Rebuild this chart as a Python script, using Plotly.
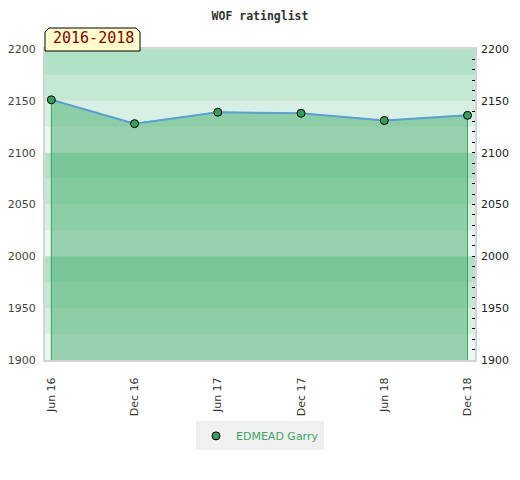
import plotly.graph_objects as go

# WOF rating list data
months = ["Jun 16", "Dec 16", "Jun 17", "Dec 17", "Jun 18", "Dec 18"]
ratings = [2151, 2128, 2139, 2138, 2131, 2136]
player = "EDMEAD Garry"
period = "2016-2018"

# background rating bands (25 points each) and their opacity
band_edges = [1900, 1925, 1950, 1975, 2000, 2025, 2050, 2075, 2100, 2125, 2150, 2175, 2200]
band_alpha = [0.1, 0.2, 0.3, 0.4, 0.1, 0.2, 0.3, 0.4, 0.1, 0.2, 0.3, 0.4]
y_ticks = [1900, 1950, 2000, 2050, 2100, 2150, 2200]

y_min, y_max = band_edges[0], band_edges[-1]
idx = list(range(len(months)))

fig = go.Figure()

# filled area under the rating line, closed down below the axis
fig.add_trace(go.Scatter(
    x=[idx[0]] + idx + [idx[-1]],
    y=[y_min - 50] + ratings + [y_min - 50],
    fill="toself",
    fillcolor="rgba(67,172,105,0.5)",
    line=dict(color="#3aa35c", width=1),
    mode="lines",
    hoverinfo="skip",
    showlegend=False,
))

# rating line
fig.add_trace(go.Scatter(
    x=idx, y=ratings,
    mode="lines",
    line=dict(color="#5aa0d8", width=2),
    showlegend=False,
    hoverinfo="skip",
))

# points (also the legend entry)
fig.add_trace(go.Scatter(
    x=idx, y=ratings,
    mode="markers",
    name=player,
    marker=dict(size=8, color="#34a05a", line=dict(color="black", width=1)),
    yaxis="y2",
))

for lo, hi, a in zip(band_edges[:-1], band_edges[1:], band_alpha):
    fig.add_shape(type="rect", xref="paper", yref="y", x0=0, x1=1, y0=lo, y1=hi,
                  fillcolor=f"rgba(60,179,113,{a})", line=dict(width=0), layer="below")

# period label box with cut top corners
fig.add_shape(type="path", xref="paper", yref="paper",
              xsizemode="pixel", ysizemode="pixel", xanchor=0, yanchor=1,
              path="M0,-2 L0,17 L4,21 L91,21 L95,17 L95,-2 Z",
              fillcolor="#ffffcc", line=dict(color="black", width=1), layer="above")
fig.add_annotation(text=period, xref="paper", yref="paper", x=0, y=1,
                   xanchor="left", yanchor="bottom", xshift=6, yshift=0,
                   showarrow=False,
                   font=dict(family="DejaVu Sans Mono", size=15, color="#8b0000"))

# page body has an 8px margin, so the figure is sized and offset for that
fig.update_layout(
    width=512, height=472,
    margin=dict(l=37, r=45, t=41, b=120, autoexpand=False),
    paper_bgcolor="white",
    plot_bgcolor="white",
    title=dict(text="WOF ratinglist", x=0.5 - 4 / 512, xanchor="center",
               y=1 - 8 / 472, yref="container", yanchor="middle",
               font=dict(family="DejaVu Sans Mono", size=11.5, color="#333", weight="bold")),
    xaxis=dict(
        tickmode="array", tickvals=idx, ticktext=months,
        range=[-0.076, 5.09], tickangle=-90, automargin=False,
        showgrid=False, zeroline=False,
        showline=True, linecolor="#d4d4d4", linewidth=2, mirror=True,
        ticks="outside", ticklen=11, tickcolor="rgba(0,0,0,0)",
        tickfont=dict(family="DejaVu Sans", size=11, color="#333"),
    ),
    yaxis=dict(
        range=[y_min, y_max], tickvals=y_ticks, automargin=False,
        showgrid=False, zeroline=False,
        showline=True, linecolor="#d4d4d4", linewidth=2, mirror=True,
        ticks="outside", ticklen=5, tickcolor="rgba(0,0,0,0)",
        tickfont=dict(family="DejaVu Sans", size=11, color="#444"),
    ),
    yaxis2=dict(
        range=[y_min, y_max], tickvals=y_ticks, overlaying="y", side="right",
        automargin=False,
        showgrid=False, zeroline=False, showline=False,
        ticks="inside", ticklen=3, tickcolor="black",
        minor=dict(ticks="inside", dtick=10, ticklen=3, tickcolor="black"),
        ticklabelstandoff=5,
        tickfont=dict(family="DejaVu Sans", size=11, color="#222"),
    ),
    legend=dict(orientation="h", x=0.5, xanchor="center", y=-0.244, yanchor="middle",
                bgcolor="#f0f0f0",
                font=dict(family="DejaVu Sans", size=11, color="#3aa860")),
)

fig.write_html("out.html")
